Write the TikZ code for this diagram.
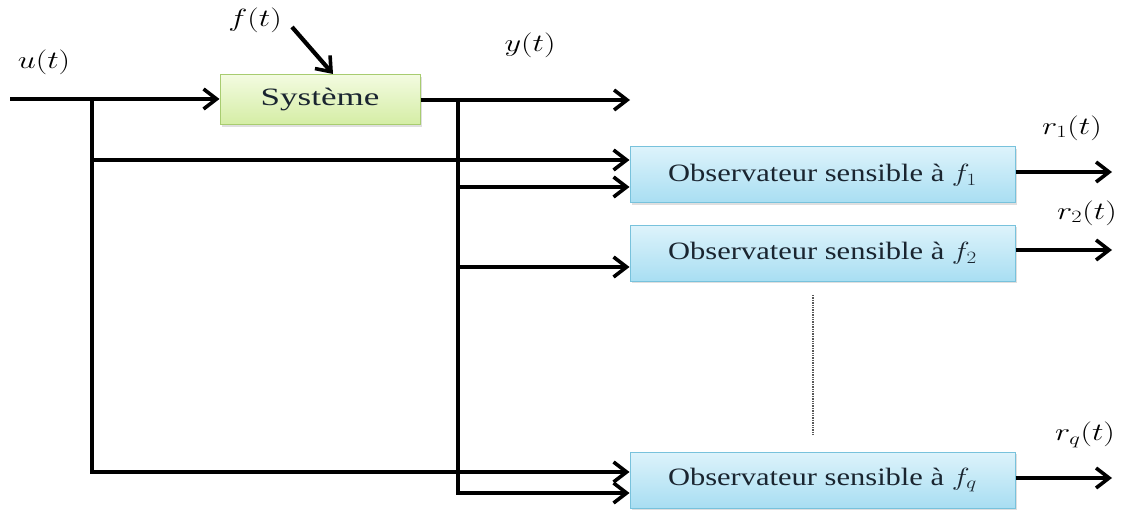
\documentclass[tikz,border=0pt]{standalone}
\usepackage{fontspec}
\setmainfont{Liberation Serif}
\usetikzlibrary{arrows.meta,shadows,calc}
\definecolor{obsTop}{HTML}{DDF3FB}
\definecolor{obsBot}{HTML}{A8DEF2}
\definecolor{obsLine}{HTML}{78C2DC}
\definecolor{sysTop}{HTML}{F3FBE0}
\definecolor{sysBot}{HTML}{D4EDA4}
\definecolor{sysLine}{HTML}{A8CC70}
\definecolor{txt}{HTML}{1A2530}
\newcommand{\wide}[1]{\scalebox{1.22}[1]{#1}}
\newcommand{\wider}[1]{\scalebox{1.3}[1]{#1}}
\tikzset{
  sig/.style={line width=3.6pt, -{Straight Barb[length=13pt,width=20pt,line width=3.6pt]}},
  wire/.style={line width=3.6pt},
  blk/.style={draw, line width=1pt, inner sep=0pt, text=txt,
    font=\fontsize{25}{29}\selectfont,
    drop shadow={opacity=0.25, shadow xshift=2pt, shadow yshift=-2pt}},
  obsbox/.style={blk, draw=obsLine, top color=obsTop, bottom color=obsBot,
    minimum width=385pt, minimum height=56pt},
  sysbox/.style={blk, draw=sysLine, top color=sysTop, bottom color=sysBot,
    minimum width=200pt, minimum height=50pt},
  lbl/.style={font=\fontsize{27}{31}\selectfont, text=black, inner sep=0pt}
}
\begin{document}
\begin{tikzpicture}[x=1pt,y=-1pt]
\useasboundingbox (0,0) rectangle (1127,510);

% blocks
\node[sysbox] (sys) at (320,100) {\scalebox{1.4}[1]{Système}};
\node[obsbox] (obs1) at (822.5,175) {\wide{Observateur sensible à $f_1$}};
\node[obsbox] (obs2) at (822.5,253.5) {\wide{Observateur sensible à $f_2$}};
\node[obsbox] (obsq) at (822.5,480) {\wide{Observateur sensible à $f_q$}};

% labels
\node[lbl] (lu) at (44,62) {\wider{$u(t)$}};
\node[lbl] (lf) at (255,20) {\wider{$f(t)$}};
\node[lbl] (ly) at (530,45) {\wider{$y(t)$}};
\node[lbl] (lr1) at (1072,128) {\wider{$r_1(t)$}};
\node[lbl] (lr2) at (1087,213) {\wider{$r_2(t)$}};
\node[lbl] (lrq) at (1085,435) {\wider{$r_q(t)$}};

% free ends and branch points
\coordinate (uin) at (10,99);
\coordinate (bu) at (92,99);
\coordinate (by) at (458,100);
\coordinate (yout) at (630,100);
\coordinate (fstart) at (292,27);
\coordinate (fend) at (333,74);
\coordinate (r1end) at (1112,172);
\coordinate (r2end) at (1112,250);
\coordinate (rqend) at (1112,478);

% input and output of the system
\draw[sig] (uin) -- (sys.west |- uin);
\draw[sig] (sys.east) -- (yout);
\draw[sig, line width=4.2pt] (fstart) -- (fend);

% u(t) distribution
\draw[wire] (bu) -- (92,472);
\draw[sig] (bu) |- ($(obs1.west)+(0,-15)$);
\draw[sig] (bu) |- ($(obsq.west)+(0,-8)$);

% y(t) distribution
\draw[wire] (by) -- (458,493);
\draw[sig] (by) |- ($(obs1.west)+(0,12)$);
\draw[sig] (by) |- ($(obs2.west)+(0,13.5)$);
\draw[sig] (by) |- ($(obsq.west)+(0,13)$);

% residual outputs
\draw[sig] (obs1.east |- r1end) -- (r1end);
\draw[sig] (obs2.east |- r2end) -- (r2end);
\draw[sig] (obsq.east |- rqend) -- (rqend);

% remaining observers
\draw[gray!70!black, line width=1.4pt, densely dotted] ($(obs2.south)+(-9.5,13)$) -- ($(obsq.north)+(-9.5,-17)$);
\end{tikzpicture}
\end{document}
